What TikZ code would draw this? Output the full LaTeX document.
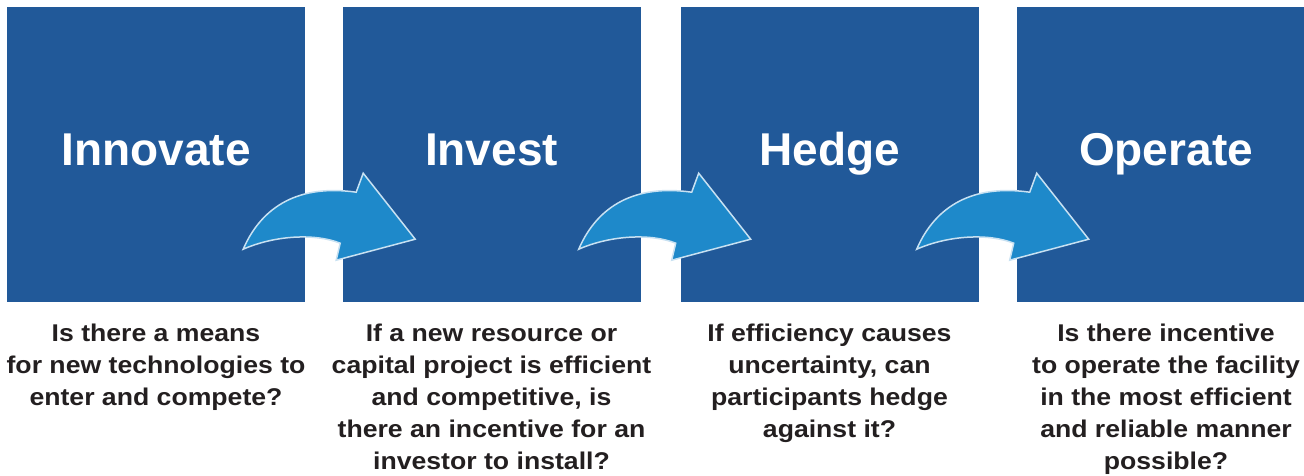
\documentclass[tikz,border=0pt]{standalone}
\usepackage{fontspec}
\setmainfont{Liberation Sans}
\newfontfamily\qfont[FakeStretch=1.1]{Liberation Sans}
\usepackage{tikz}
\usepackage{xcolor}
\definecolor{boxblue}{RGB}{33,89,153}
\definecolor{arrowblue}{RGB}{30,137,202}
\definecolor{rimblue}{RGB}{200,225,242}
\definecolor{inkgray}{RGB}{35,31,32}

\begin{document}
\begin{tikzpicture}[x=1pt, y=-1pt,
    stepbox/.style={fill=boxblue, draw=none, minimum width=298pt, minimum height=295pt, inner sep=0pt},
    steptitle/.style={anchor=base, text=white, font=\fontsize{46}{50}\selectfont\bfseries},
    question/.style={anchor=north, inner sep=0pt, align=center, text=inkgray, font=\qfont\fontsize{24.2}{32}\selectfont\bfseries},
    curvearrow/.style={fill=arrowblue, draw=rimblue, line width=1.5pt, line join=miter}]
    \useasboundingbox (0,0) rectangle (1304,475);
    \clip (0,0) rectangle (1304,475);
    % the four squares
    \node[stepbox] (innovate) at (156,154.5) {};
    \node[stepbox] (invest) at (491.5,154.5) {};
    \node[stepbox] (hedge) at (829.5,154.5) {};
    \node[stepbox] (operate) at (1166,154.5) {};
    % baselines for titles, top line for questions
    \coordinate (titleline) at (0,165);
    \coordinate (qline) at (0,324);
    % curved arrows across the gaps
    \foreach \a in {innovate, invest, hedge}
        \draw[curvearrow, shift={(\a.south east)}] (-62,-53)
            .. controls (-43,-97) and (-5,-118) .. (51,-110)
            -- (58,-129) -- (110,-63) -- (31,-42) -- (35,-59)
            .. controls (10,-69) and (-30,-67) .. cycle;
    % titles
    \node[steptitle] (innovate-t) at (innovate |- titleline) {Innovate};
    \node[steptitle] (invest-t) at (invest |- titleline) {Invest};
    \node[steptitle] (hedge-t) at (hedge |- titleline) {Hedge};
    \node[steptitle] (operate-t) at (operate |- titleline) {Operate};
    % questions below
    \node[question] (innovate-q) at (innovate |- qline)
        {Is there a means\\for new technologies to\\enter and compete?};
    \node[question] (invest-q) at (invest |- qline)
        {If a new resource or\\capital project is efficient\\and competitive, is\\there an incentive for an\\investor to install?};
    \node[question] (hedge-q) at (hedge |- qline)
        {If efficiency causes\\uncertainty, can\\participants hedge\\against it?};
    \node[question] (operate-q) at (operate |- qline)
        {Is there incentive\\to operate the facility\\in the most efficient\\and reliable manner\\possible?};
\end{tikzpicture}
\end{document}
